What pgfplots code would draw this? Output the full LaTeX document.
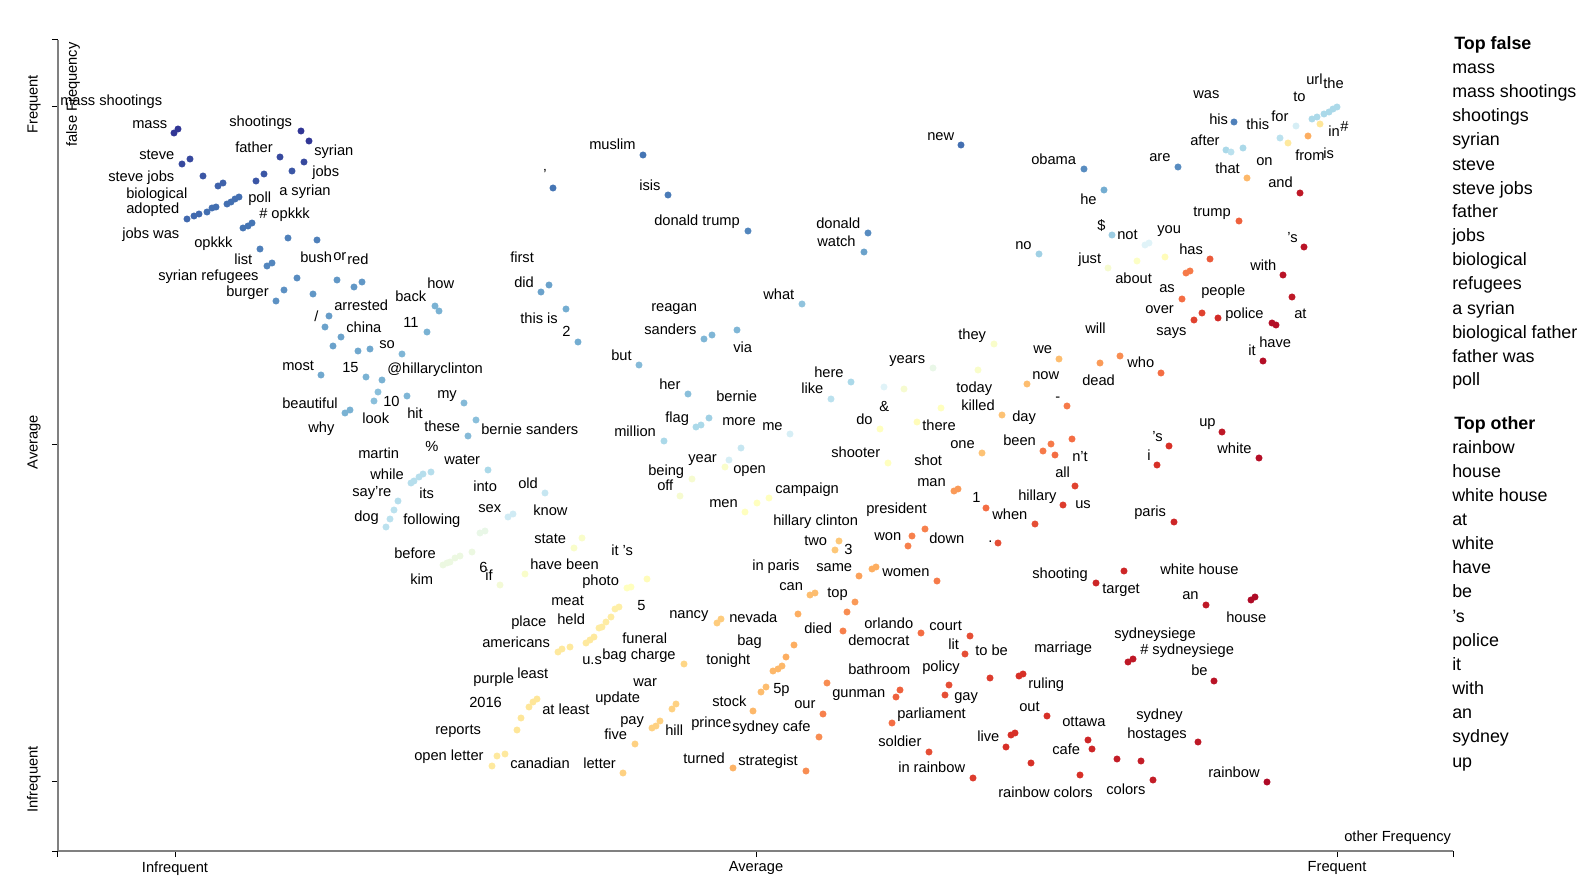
\documentclass[border=0pt]{standalone}
\usepackage{pgfplots}
\usepackage{pgfplotstable}
\usepackage{fontspec}
\setmainfont{Liberation Sans}
\pgfplotsset{compat=1.18}

\pgfplotstableread{
x y c
174 133 10
178 129 10
301 131 10
309 141 10
182 164 9.7
190 159 9.7
280 157 9.7
304 162 9.7
292 171 9.5
264 174 9.5
256 181 9.5
203 176 9.5
218 186 9.3
223 183 9.3
187 219 9.2
194 216 9.2
199 214 9.2
207 212 9.1
212 208 9.1
216 207 9.1
227 204 9.1
231 202 9.1
235 199 9.1
239 197 9.1
243 228 9.0
248 226 9.0
252 223 9.0
288 238 8.8
317 240 8.8
260 249 8.8
267 266 8.7
272 263 8.7
297 278 8.6
337 280 8.4
354 287 8.4
362 282 8.4
284 290 8.5
276 301 8.5
313 294 8.4
329 316 8.3
325 327 8.2
341 337 8.2
333 346 8.2
358 351 8.1
370 349 8.1
402 354 7.8
321 375 8.1
366 377 7.9
382 380 7.9
378 392 7.6
374 401 7.6
345 413 7.9
350 410 7.9
407 396 7.8
427 332 7.9
435 306 7.9
439 311 7.9
464 403 7.7
476 420 7.6
468 436 7.7
488 470 7.0
431 472 6.8
423 474 6.8
419 477 6.8
414 481 6.8
411 483 6.8
398 501 6.8
394 510 6.7
390 519 6.7
386 527 6.7
545 493 6.5
508 517 6.3
513 514 6.3
480 533 5.7
485 531 5.7
443 565 5.6
447 563 5.6
450 562 5.6
455 558 5.6
460 556 5.6
472 552 5.6
582 538 5.2
574 548 5.2
525 574 5.2
500 585 5.4
647 579 4.9
627 588 5.0
631 587 5.0
615 609 4.5
619 607 4.5
611 617 4.4
606 622 4.4
602 627 4.4
599 628 4.4
594 637 4.3
590 640 4.3
586 643 4.3
558 652 4.3
562 649 4.3
570 647 4.3
717 623 3.6
721 619 3.6
684 664 3.8
533 702 4.2
537 699 4.2
529 707 4.2
521 718 4.2
517 730 4.2
676 704 3.7
672 709 3.7
660 721 3.7
656 726 3.7
652 728 3.7
635 744 3.7
497 756 4.3
505 754 4.3
492 766 4.3
623 773 3.7
733 768 3.1
643 155 9.0
553 188 9.0
668 195 8.9
748 231 8.7
549 285 8.2
541 292 8.2
566 309 8.0
578 342 8.0
704 339 7.8
712 335 7.8
737 330 7.8
639 365 7.7
688 394 7.6
696 427 7.0
701 425 7.0
709 418 7.2
664 441 7.0
741 448 6.5
729 460 6.2
725 467 5.2
692 479 5.3
680 496 5.3
745 512 5.0
961 145 9.1
1084 169 8.6
868 233 8.6
864 252 8.2
1039 254 7.2
802 304 7.5
1234 122 8.8
1296 126 6.2
1312 119 7.0
1317 117 7.0
1324 114 7.0
1329 112 7.0
1333 109 7.0
1337 107 7.0
1320 124 4.2
1308 136 3.0
1226 150 7.0
1231 152 6.7
1243 148 7.0
1280 138 6.7
1288 143 4.3
1178 167 8.6
1247 178 3.2
1300 193 0.5
1104 190 8.0
1239 221 1.8
1112 235 7.3
1145 245 6.0
1149 243 6.0
1304 247 0.4
1210 259 1.7
1108 268 5.3
1137 261 5.1
1165 257 4.9
1186 273 2.2
1190 271 2.2
1283 275 0.4
1182 299 2.0
1292 297 0.5
1194 320 1.3
1202 313 1.3
1218 318 0.9
1272 323 0.3
1276 325 0.3
1263 361 0.3
994 344 5.2
1059 359 3.3
933 368 5.7
978 370 5.2
1027 384 3.3
851 382 7.0
831 399 6.7
884 387 6.0
904 389 5.3
1067 406 2.2
941 408 5.0
1002 415 3.4
880 429 5.0
917 422 4.9
790 434 6.2
982 453 3.4
1043 451 2.2
1051 444 2.2
1055 455 2.0
1072 439 2.0
888 463 5.0
1075 486 1.3
954 491 2.7
958 489 2.7
769 498 5.0
757 503 5.0
986 508 2.0
1063 505 1.2
1035 524 1.5
912 536 2.3
908 546 2.3
925 529 2.3
998 543 1.5
839 541 3.5
835 550 3.5
859 576 2.8
872 569 3.0
876 567 3.0
937 581 2.2
1100 363 2.7
1120 356 2.5
1161 373 2.0
1222 432 0.5
1169 446 1.0
1157 465 1.0
1259 458 0.3
1174 522 0.8
1124 571 0.8
1096 583 0.8
810 595 3.3
815 593 3.3
855 602 2.7
847 612 2.5
798 614 3.0
843 631 2.3
921 633 2.0
970 636 1.5
794 645 3.0
965 654 1.5
786 657 3.0
782 666 3.2
778 669 3.2
773 671 3.2
990 678 1.2
1019 676 1.0
1023 674 1.0
949 685 1.5
945 695 1.5
900 690 1.8
896 697 1.8
766 687 3.3
761 692 3.3
827 683 2.5
823 714 2.3
1047 716 1.0
892 723 2.0
753 711 3.2
819 737 2.5
1011 735 1.0
1015 733 1.0
1006 747 1.0
1088 740 0.8
1092 749 0.8
929 752 1.5
973 778 1.2
806 771 2.5
1031 763 1.0
1080 775 1.0
1206 605 0.5
1251 600 0.2
1255 597 0.2
1128 662 0.5
1133 659 0.5
1214 681 0.4
1198 742 0.5
1117 759 0.6
1141 761 0.6
1153 780 0.6
1267 782 0.2
}\pts

\pgfplotstableread[col sep=comma]{
x,y,t
60,101,mass shootings
132,124,mass
229,122,shootings
139,155,steve
235,148,father
314,151,syrian
312,172,jobs
108,177,steve jobs
126,194,biological
126,209,adopted
248,198,poll
279,191,a syrian
259,214,\# opkkk
122,234,jobs was
194,243,opkkk
234,260,list
300,258,bush
333,256,or
347,260,red
158,276,syrian refugees
226,292,burger
334,306,arrested
314,317,/
346,328,china
379,344,so
282,366,most
342,368,15
387,369,@hillaryclinton
383,402,10
282,404,beautiful
362,419,look
308,428,why
358,454,martin
370,475,while
352,492,say're
354,517,dog
394,554,before
403,323,11
562,332,2
644,330,sanders
733,348,via
611,356,but
437,394,my
659,385,her
716,397,bernie
407,414,hit
424,427,these
481,430,bernie sanders
665,418,flag
722,421,more
614,432,million
425,447,\%
444,460,water
419,494,its
473,487,into
518,484,old
688,458,year
648,471,being
657,486,off
733,469,open
709,503,men
478,508,sex
533,511,know
403,520,following
534,539,state
611,551,it 's
530,565,have been
479,568,6
485,576,if
410,580,kim
582,581,photo
551,601,meat
637,606,5
511,622,place
557,620,held
482,643,americans
669,614,nancy
622,639,funeral
582,660,u.s
602,655,bag charge
706,660,tonight
473,679,purple
517,674,least
633,682,war
469,703,2016
595,698,update
542,710,at least
712,702,stock
620,720,pay
665,731,hill
691,723,prince
732,727,sydney cafe
604,735,five
435,730,reports
414,756,open letter
510,764,canadian
583,764,letter
683,759,turned
738,761,strategist
779,586,can
827,593,top
729,618,nevada
804,629,died
864,624,orlando
848,641,democrat
929,626,court
737,641,bag
948,645,lit
975,651,to be
1034,648,marriage
848,670,bathroom
922,667,policy
1028,684,ruling
954,696,gay
832,693,gunman
773,689,5p
794,704,our
1019,707,out
897,714,parliament
1062,722,ottawa
977,737,live
1052,750,cafe
878,742,soldier
898,768,in rainbow
998,793,rainbow colors
1102,589,target
1182,595,an
1226,618,house
1114,634,sydneysiege
1140,650,\# sydneysiege
1191,671,be
1136,715,sydney
1127,734,hostages
1106,790,colors
1208,773,rainbow
1156,331,says
1085,329,will
1127,363,who
1082,381,dead
1248,351,it
1259,343,have
1199,422,up
1152,437,’s
1147,456,i
1217,449,white
1134,512,paris
1160,570,white house
958,335,they
1033,349,we
889,359,years
1032,375,now
814,373,here
801,389,like
956,388,today
1055,397,-
879,407,\&
961,406,killed
1012,417,day
856,420,do
922,426,there
762,426,me
950,444,one
1003,441,been
1072,457,n't
831,453,shooter
914,461,shot
1055,473,all
917,482,man
775,489,campaign
972,498,1
1018,496,hillary
1075,504,us
866,509,president
992,515,when
773,521,hillary clinton
874,536,won
929,539,down
988,538,.
804,541,two
844,550,3
752,566,in paris
816,567,same
882,572,women
1032,574,shooting
927,136,new
1031,160,obama
1080,200,he
816,224,donald
817,242,watch
1015,245,no
763,295,what
589,145,muslim
543,175,'
639,186,isis
654,221,donald trump
510,258,first
514,283,did
427,284,how
395,297,back
520,319,this is
651,307,reagan
1193,94,was
1306,80,url
1323,84,the
1293,97,to
1209,120,his
1246,125,this
1271,117,for
1328,132,in
1340,127,\#
1190,141,after
1295,156,from
1323,154,is
1149,157,are
1215,169,that
1256,161,on
1268,183,and
1193,212,trump
1097,226,\$
1117,235,not
1157,229,you
1287,238,'s
1179,250,has
1078,259,just
1115,279,about
1250,266,with
1159,288,as
1201,291,people
1145,309,over
1225,314,police
1294,314,at
}\lbls

\pgfplotstableread[col sep=comma]{
x,y,t
1454,44,\textbf{Top false}
1452,67.5,mass
1452,91.6,mass shootings
1452,115.8,shootings
1452,140,syrian
1452,164.1,steve
1452,188.3,steve jobs
1452,211.5,father
1452,235.6,jobs
1452,259.8,biological
1452,284,refugees
1452,308.1,a syrian
1452,332.3,biological father
1452,356.5,father was
1452,379.6,poll
1454,424,\textbf{Top other}
1452,448,rainbow
1452,472,house
1452,495.4,white house
1452,519.6,at
1452,543.8,white
1452,568,have
1452,592,be
1452,616.3,'s
1452,640.4,police
1452,664.6,it
1452,688.8,with
1452,713,an
1452,737,sydney
1452,761.3,up
}\legtab

\begin{document}
\begin{tikzpicture}
\begin{axis}[
  scale only axis,
  width=1046.25pt, height=608.25pt,
  xmin=58, xmax=1453, ymin=-851, ymax=-40,
  axis lines=left,
  axis line style={-, draw={rgb,255:red,128;green,128;blue,128}, line width=0.9pt},
  tick align=outside,
  major tick length=4.5pt,
  tick style={black, line width=0.75pt},
  xtick={175,756,1337},
  xticklabels={Infrequent,Average,Frequent},
  extra x ticks={58,1453},
  extra x tick labels={},
  ytick={-782,-445,-107},
  yticklabels={Infrequent,Average,Frequent},
  extra y ticks={-851,-40},
  extra y tick labels={},
  tick label style={font=\fontsize{11}{13}\selectfont},
  yticklabel style={rotate=90, anchor=south, yshift=5pt, xshift=2pt},
  colormap={rdylbu}{rgb255=(165,0,38) rgb255=(215,48,39) rgb255=(244,109,67) rgb255=(253,174,97) rgb255=(254,224,144) rgb255=(255,255,191) rgb255=(224,243,248) rgb255=(171,217,233) rgb255=(116,173,209) rgb255=(69,117,180) rgb255=(49,54,149)},
  point meta min=0, point meta max=10,
  clip=false,
]
\addplot[scatter, only marks, mark=*, mark size=2.4pt, scatter src=explicit,
  scatter/use mapped color={draw=mapped color, fill=mapped color}]
  table[x=x, y expr=-\thisrow{y}, meta=c] {\pts};
\addplot[draw=none, mark=none, nodes near coords, point meta=explicit symbolic,
  nodes near coords style={anchor=base west, inner sep=0pt, yshift=-3.75pt, text=black, font=\fontsize{11}{13}\selectfont}]
  table[x=x, y expr=-\thisrow{y}, meta=t] {\lbls};
\addplot[draw=none, mark=none, nodes near coords, point meta=explicit symbolic,
  nodes near coords style={anchor=base west, inner sep=0pt, yshift=-4.5pt, text=black, font=\fontsize{13.4}{16}\selectfont}]
  table[x=x, y expr=-\thisrow{y}, meta=t] {\legtab};
\node[rotate=90, anchor=west, inner sep=0pt, font=\fontsize{11}{13}\selectfont] at (axis cs:73,-147) {false Frequency};
\node[anchor=base west, inner sep=0pt, font=\fontsize{11}{13}\selectfont] at (axis cs:1344,-841) {other Frequency};
\coordinate (BL) at (axis cs:0,-886);
\coordinate (TR) at (axis cs:1579,0);
\end{axis}
\pgfresetboundingbox
\path[use as bounding box] (BL) rectangle (TR);
\end{tikzpicture}
\end{document}
